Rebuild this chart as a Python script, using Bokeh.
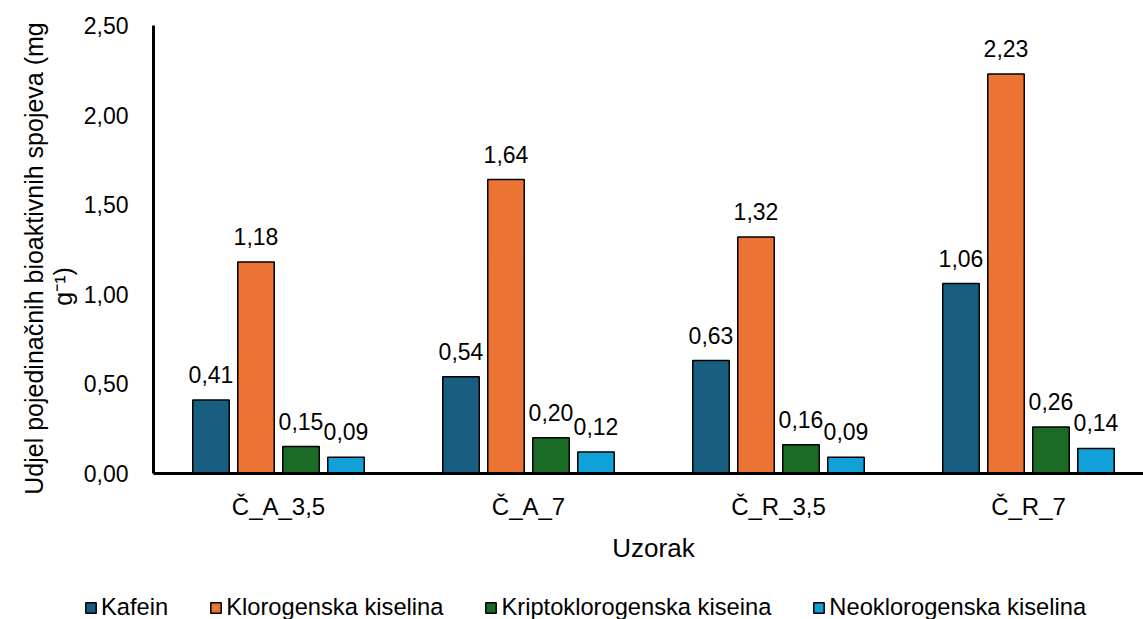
import math
from bokeh.plotting import figure
from bokeh.models import (Range1d, FixedTicker, CustomJSTickFormatter, ColumnDataSource,
                          LabelSet, Label, Legend, LegendItem)
from bokeh.core.properties import value
from bokeh.embed import file_html
from bokeh.resources import INLINE

# ---- data ----
categories = ["Č_A_3,5", "Č_A_7", "Č_R_3,5", "Č_R_7"]
series_names = ["Kafein", "Klorogenska kiselina", "Kriptoklorogenska kiseina", "Neoklorogenska kiselina"]
kafein = [0.41, 0.54, 0.63, 1.06]
klorogenska = [1.18, 1.64, 1.32, 2.23]
kriptoklorogenska = [0.15, 0.20, 0.16, 0.26]
neoklorogenska = [0.09, 0.12, 0.09, 0.14]
y_ticks = [0.0, 0.5, 1.0, 1.5, 2.0, 2.5]
y_title_line1 = "Udjel pojedinačnih bioaktivnih spojeva (mg"
y_title_line2 = "g⁻¹)"
x_title = "Uzorak"

series_values = [kafein, klorogenska, kriptoklorogenska, neoklorogenska]
colors = ["#175E81", "#EB7334", "#1B6A25", "#12A0D8"]
offsets = [-0.27, -0.09, 0.09, 0.27]
bar_w = 0.146

FONT = "Liberation Sans"
FS_TICK = "23px"
FS_DATA = "23px"
FS_CAT = "24px"
FS_YTITLE = "25px"
FS_XTITLE = "26px"
FS_LEG = "23.7px"

W, H = 1143, 619
X0, Y0 = 153, 473          # pixel position of the axes origin
PX_PER_CAT, PX_PER_UNIT = 250.0, 179.2

p = figure(width=W, height=H, output_backend="svg", toolbar_location=None,
           x_range=Range1d(-X0 / PX_PER_CAT, (W - X0) / PX_PER_CAT),
           y_range=Range1d(-(H - Y0) / PX_PER_UNIT, Y0 / PX_PER_UNIT),
           min_border=0)
p.outline_line_color = None
p.xgrid.visible = False
p.ygrid.visible = False
p.background_fill_color = "white"
p.border_fill_color = "white"

items = []
for name, vals, col, off in zip(series_names, series_values, colors, offsets):
    xs = [i + 0.5 + off for i in range(len(categories))]
    src = ColumnDataSource(dict(x=xs, top=vals,
                                lab=[f"{v:.2f}".replace(".", ",") for v in vals]))
    r = p.vbar(x="x", top="top", width=bar_w, bottom=0, source=src,
               fill_color=col, line_color="black", line_width=1.5)
    items.append(LegendItem(label=name, renderers=[r]))
    ls = LabelSet(x="x", y="top", text="lab", source=src, text_align="center",
                  text_baseline="alphabetic", y_offset=17,
                  text_font=value(FONT), text_font_size=FS_DATA, text_color="black")
    p.add_layout(ls)

# axes (drawn at the data origin, inside the frame)
xa = p.xaxis[0]
xa.fixed_location = 0
xa.bounds = (0, len(categories) * 1.0 + 0.5)
xa.ticker = FixedTicker(ticks=[i + 0.5 for i in range(len(categories))])
xa.formatter = CustomJSTickFormatter(args=dict(labels=categories),
                                     code="return labels[Math.floor(tick)];")
xa.major_tick_line_color = None
xa.minor_tick_line_color = None
xa.axis_line_color = "black"
xa.axis_line_width = 3
xa.major_label_text_font = FONT
xa.major_label_text_font_size = FS_CAT
xa.major_label_text_color = "black"
xa.major_label_standoff = 13

ya = p.yaxis[0]
ya.fixed_location = 0
ya.bounds = (0, 2.5)
ya.ticker = FixedTicker(ticks=y_ticks)
ya.formatter = CustomJSTickFormatter(code="return tick.toFixed(2).replace('.', ',');")
ya.major_tick_line_color = None
ya.minor_tick_line_color = None
ya.axis_line_color = "black"
ya.axis_line_width = 3
ya.major_label_text_font = FONT
ya.major_label_text_font_size = FS_TICK
ya.major_label_text_color = "black"
ya.major_label_standoff = 19

# titles (screen units measured from the bottom-left of the canvas)
p.add_layout(Label(x=33, y=H - 258, x_units="screen", y_units="screen", text=y_title_line1,
                   angle=math.pi / 2, text_align="center", text_baseline="alphabetic",
                   text_font=FONT, text_font_size=FS_YTITLE, text_color="black"))
p.add_layout(Label(x=62, y=H - 286, x_units="screen", y_units="screen", text=y_title_line2,
                   angle=math.pi / 2, text_align="center", text_baseline="alphabetic",
                   text_font=FONT, text_font_size=FS_YTITLE, text_color="black"))
p.add_layout(Label(x=653, y=H - 547, x_units="screen", y_units="screen", text=x_title,
                   text_align="center", text_baseline="alphabetic",
                   text_font=FONT, text_font_size=FS_XTITLE, text_color="black"))

legend = Legend(items=items, orientation="horizontal", location=(84, -2),
                padding=0, margin=0, spacing=41, label_standoff=4,
                glyph_width=13, glyph_height=13,
                label_text_font=FONT, label_text_font_size=FS_LEG, label_text_color="black",
                border_line_color=None, background_fill_alpha=0)
p.add_layout(legend, "center")

open("out.html", "w").write(file_html(p, INLINE))
